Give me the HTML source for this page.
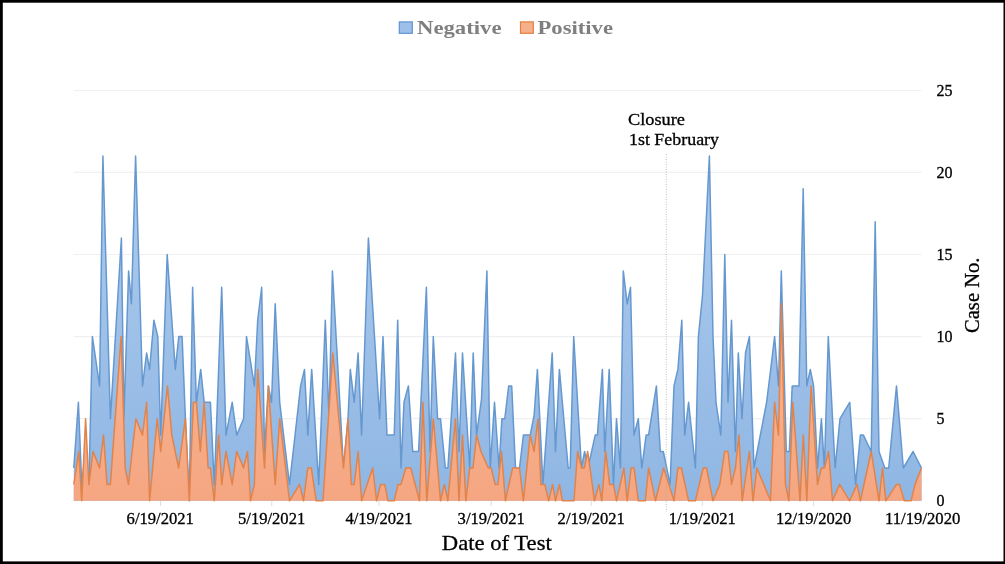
<!DOCTYPE html>
<html><head><meta charset="utf-8">
<style>
html,body{margin:0;padding:0;background:#fff;}
body{width:1005px;height:564px;overflow:hidden;position:relative;}
svg{position:absolute;left:0;top:0;will-change:transform;}
text{font-family:"Liberation Serif",serif;}
.th{stroke:#000;stroke-width:0.3;}
</style></head>
<body>
<svg width="1005" height="564" viewBox="0 0 1005 564">
<defs>
<linearGradient id="gb" x1="0" y1="0" x2="0" y2="1" gradientUnits="objectBoundingBox">
<stop offset="0" stop-color="#AECCEE"/><stop offset="1" stop-color="#8FB6E3"/>
</linearGradient>
<linearGradient id="go" x1="0" y1="0" x2="0" y2="1" gradientUnits="objectBoundingBox">
<stop offset="0" stop-color="#F7B695"/><stop offset="1" stop-color="#F5A681"/>
</linearGradient>
</defs>
<rect x="0" y="0" width="1005" height="564" fill="#fff"/>
<g stroke="#F0F0F0" stroke-width="1.2">
<line x1="73.8" y1="90.5" x2="921.5" y2="90.5"/>
<line x1="73.8" y1="172.4" x2="921.5" y2="172.4"/>
<line x1="73.8" y1="254.5" x2="921.5" y2="254.5"/>
<line x1="73.8" y1="336.7" x2="921.5" y2="336.7"/>
<line x1="73.8" y1="418.7" x2="921.5" y2="418.7"/>
</g>
<polygon points="73.8,500.8 73.8,468.0 78.4,402.3 81.7,484.4 85.6,451.5 88.9,484.4 92.4,336.6 99.6,385.9 102.9,156.0 110.4,418.7 121.4,238.1 123.9,418.7 128.6,270.9 131.4,303.8 135.6,156.0 142.5,385.9 146.6,353.0 149.6,369.4 153.9,320.2 157.8,336.6 160.7,435.1 167.2,254.5 175.3,369.4 178.8,336.6 182.1,336.6 185.4,418.7 189.3,500.8 192.6,287.3 196.4,402.3 200.7,369.4 204.2,402.3 210.4,402.3 214.3,484.4 221.7,287.3 226.0,435.1 232.2,402.3 236.7,435.1 243.6,418.7 246.5,336.6 254.4,385.9 257.7,320.2 261.7,287.3 264.5,451.5 268.4,385.9 271.5,402.3 275.2,303.8 279.7,402.3 289.5,484.4 300.6,385.9 304.5,369.4 307.8,435.1 311.7,369.4 318.7,484.4 325.3,320.2 329.0,418.7 332.4,270.9 343.5,468.0 348.0,418.7 350.3,369.4 354.2,402.3 358.1,353.0 361.6,435.1 368.4,238.1 379.6,418.7 383.0,336.6 387.0,435.1 394.2,435.1 397.7,320.2 401.0,468.0 404.0,402.3 408.4,385.9 412.7,451.5 418.6,451.5 426.4,287.3 430.0,451.5 433.3,336.6 437.6,418.7 440.5,418.7 445.4,468.0 447.9,468.0 455.5,353.0 459.0,451.5 462.5,353.0 469.7,468.0 473.2,353.0 476.6,435.1 481.5,399.0 486.9,270.9 490.2,468.0 494.5,402.3 499.0,468.0 501.9,418.7 504.8,418.7 508.7,385.9 511.7,385.9 515.5,468.0 519.5,468.0 523.4,435.1 530.2,435.1 534.1,415.4 537.4,369.4 542.9,484.4 552.2,353.0 555.5,451.5 559.4,369.4 568.2,468.0 570.2,468.0 573.7,336.6 581.5,468.0 584.6,451.5 588.0,468.0 595.2,435.1 597.4,435.1 602.4,369.4 604.8,451.5 609.2,369.4 613.5,484.4 616.5,418.7 620.4,468.0 623.3,270.9 627.2,303.8 630.5,287.3 634.0,435.1 638.3,418.7 641.8,468.0 646.1,435.1 648.6,435.1 656.4,385.9 660.3,451.5 663.3,451.5 670.1,484.4 674.0,385.9 677.9,369.4 681.8,320.2 684.7,435.1 688.6,402.3 695.4,468.0 698.4,336.6 702.5,295.5 709.4,156.0 713.0,336.6 716.0,402.3 720.8,435.1 724.8,254.5 728.0,402.3 731.5,320.2 735.4,451.5 738.3,353.0 742.0,418.7 745.5,353.0 749.4,336.6 754.0,468.0 766.6,402.3 770.7,369.4 774.6,336.6 778.5,385.9 781.3,270.9 786.3,451.5 789.3,451.5 792.2,385.9 799.0,385.9 803.2,188.8 806.8,385.9 810.3,369.4 813.6,385.9 817.5,468.0 821.4,418.7 824.4,468.0 828.3,336.6 835.1,468.0 840.0,418.7 849.7,402.3 855.6,484.4 860.4,435.1 863.4,435.1 871.2,451.5 875.2,221.7 879.0,451.5 884.8,468.0 888.7,468.0 896.5,385.9 903.3,468.0 913.1,451.5 921.5,468.0 921.5,500.8" fill="url(#gb)"/>
<polyline points="73.8,468.0 78.4,402.3 81.7,484.4 85.6,451.5 88.9,484.4 92.4,336.6 99.6,385.9 102.9,156.0 110.4,418.7 121.4,238.1 123.9,418.7 128.6,270.9 131.4,303.8 135.6,156.0 142.5,385.9 146.6,353.0 149.6,369.4 153.9,320.2 157.8,336.6 160.7,435.1 167.2,254.5 175.3,369.4 178.8,336.6 182.1,336.6 185.4,418.7 189.3,500.8 192.6,287.3 196.4,402.3 200.7,369.4 204.2,402.3 210.4,402.3 214.3,484.4 221.7,287.3 226.0,435.1 232.2,402.3 236.7,435.1 243.6,418.7 246.5,336.6 254.4,385.9 257.7,320.2 261.7,287.3 264.5,451.5 268.4,385.9 271.5,402.3 275.2,303.8 279.7,402.3 289.5,484.4 300.6,385.9 304.5,369.4 307.8,435.1 311.7,369.4 318.7,484.4 325.3,320.2 329.0,418.7 332.4,270.9 343.5,468.0 348.0,418.7 350.3,369.4 354.2,402.3 358.1,353.0 361.6,435.1 368.4,238.1 379.6,418.7 383.0,336.6 387.0,435.1 394.2,435.1 397.7,320.2 401.0,468.0 404.0,402.3 408.4,385.9 412.7,451.5 418.6,451.5 426.4,287.3 430.0,451.5 433.3,336.6 437.6,418.7 440.5,418.7 445.4,468.0 447.9,468.0 455.5,353.0 459.0,451.5 462.5,353.0 469.7,468.0 473.2,353.0 476.6,435.1 481.5,399.0 486.9,270.9 490.2,468.0 494.5,402.3 499.0,468.0 501.9,418.7 504.8,418.7 508.7,385.9 511.7,385.9 515.5,468.0 519.5,468.0 523.4,435.1 530.2,435.1 534.1,415.4 537.4,369.4 542.9,484.4 552.2,353.0 555.5,451.5 559.4,369.4 568.2,468.0 570.2,468.0 573.7,336.6 581.5,468.0 584.6,451.5 588.0,468.0 595.2,435.1 597.4,435.1 602.4,369.4 604.8,451.5 609.2,369.4 613.5,484.4 616.5,418.7 620.4,468.0 623.3,270.9 627.2,303.8 630.5,287.3 634.0,435.1 638.3,418.7 641.8,468.0 646.1,435.1 648.6,435.1 656.4,385.9 660.3,451.5 663.3,451.5 670.1,484.4 674.0,385.9 677.9,369.4 681.8,320.2 684.7,435.1 688.6,402.3 695.4,468.0 698.4,336.6 702.5,295.5 709.4,156.0 713.0,336.6 716.0,402.3 720.8,435.1 724.8,254.5 728.0,402.3 731.5,320.2 735.4,451.5 738.3,353.0 742.0,418.7 745.5,353.0 749.4,336.6 754.0,468.0 766.6,402.3 770.7,369.4 774.6,336.6 778.5,385.9 781.3,270.9 786.3,451.5 789.3,451.5 792.2,385.9 799.0,385.9 803.2,188.8 806.8,385.9 810.3,369.4 813.6,385.9 817.5,468.0 821.4,418.7 824.4,468.0 828.3,336.6 835.1,468.0 840.0,418.7 849.7,402.3 855.6,484.4 860.4,435.1 863.4,435.1 871.2,451.5 875.2,221.7 879.0,451.5 884.8,468.0 888.7,468.0 896.5,385.9 903.3,468.0 913.1,451.5 921.5,468.0" fill="none" stroke="#6698D0" stroke-width="1.5" stroke-linejoin="round"/>
<polygon points="73.8,500.8 73.8,484.4 78.8,451.5 81.7,500.8 85.6,418.7 88.9,484.4 93.0,451.5 99.6,468.0 103.5,435.1 107.0,484.4 110.4,484.4 121.1,336.6 125.2,468.0 128.5,484.4 135.9,418.7 142.5,435.1 146.6,402.3 149.6,500.8 157.2,418.7 160.7,451.5 167.5,385.9 171.8,435.1 178.6,468.0 185.4,418.7 189.3,500.8 193.4,402.3 196.4,402.3 200.3,451.5 204.2,402.3 208.1,468.0 210.4,468.0 214.3,500.8 218.6,435.1 221.7,484.4 226.0,451.5 232.2,484.4 236.7,451.5 243.6,468.0 247.5,451.5 250.5,500.8 254.4,484.4 257.7,369.4 264.5,468.0 268.4,385.9 275.2,484.4 279.7,418.7 289.5,500.8 299.6,484.4 303.5,500.8 307.8,468.0 311.3,468.0 316.2,500.8 323.0,500.8 332.8,353.0 343.5,468.0 348.0,418.7 351.3,484.4 354.2,484.4 358.1,451.5 361.6,500.8 372.7,468.0 376.6,500.8 380.6,484.4 384.7,484.4 388.0,500.8 394.2,500.8 398.0,484.4 401.0,484.4 405.9,468.0 410.8,468.0 419.5,500.8 422.9,402.3 426.8,500.8 433.3,418.7 440.5,500.8 444.4,484.4 447.9,500.8 455.5,418.7 459.0,500.8 462.5,435.1 465.8,500.8 469.7,468.0 473.0,468.0 476.6,435.1 481.0,451.5 488.3,468.0 491.2,468.0 495.1,484.4 498.0,484.4 501.5,451.5 505.4,500.8 512.6,468.0 519.5,468.0 523.4,500.8 530.2,435.1 534.1,451.5 538.0,418.7 540.9,484.4 544.8,484.4 548.7,500.8 552.6,484.4 555.5,500.8 559.4,484.4 562.4,500.8 574.0,500.8 577.6,451.5 581.5,468.0 584.2,468.0 587.7,451.5 594.5,500.8 598.9,484.4 601.8,500.8 605.7,451.5 609.6,484.4 613.5,484.4 616.5,500.8 623.9,468.0 627.2,500.8 631.1,468.0 634.0,468.0 638.3,500.8 645.3,500.8 648.6,468.0 655.5,500.8 663.6,468.0 674.0,500.8 677.9,468.0 681.4,468.0 688.6,500.8 695.4,500.8 703.2,468.0 706.5,468.0 713.0,500.8 719.8,484.4 724.7,451.5 728.0,451.5 731.5,484.4 735.4,468.0 738.9,435.1 742.2,500.8 749.4,451.5 753.0,500.8 756.9,468.0 770.5,500.8 774.6,402.3 778.5,435.1 781.5,303.8 785.4,484.4 788.9,500.8 792.8,402.3 800.0,500.8 803.3,435.1 806.8,500.8 811.1,385.9 817.5,484.4 821.4,468.0 824.4,468.0 828.6,451.5 832.5,500.8 839.6,484.4 849.7,500.8 857.1,484.4 860.4,500.8 871.2,451.5 879.0,500.8 882.5,468.0 885.8,500.8 896.5,484.4 899.4,484.4 904.3,500.8 911.1,500.8 915.0,484.4 921.5,468.0 921.5,500.8" fill="url(#go)"/>
<polyline points="73.8,484.4 78.8,451.5 81.7,500.8 85.6,418.7 88.9,484.4 93.0,451.5 99.6,468.0 103.5,435.1 107.0,484.4 110.4,484.4 121.1,336.6 125.2,468.0 128.5,484.4 135.9,418.7 142.5,435.1 146.6,402.3 149.6,500.8 157.2,418.7 160.7,451.5 167.5,385.9 171.8,435.1 178.6,468.0 185.4,418.7 189.3,500.8 193.4,402.3 196.4,402.3 200.3,451.5 204.2,402.3 208.1,468.0 210.4,468.0 214.3,500.8 218.6,435.1 221.7,484.4 226.0,451.5 232.2,484.4 236.7,451.5 243.6,468.0 247.5,451.5 250.5,500.8 254.4,484.4 257.7,369.4 264.5,468.0 268.4,385.9 275.2,484.4 279.7,418.7 289.5,500.8 299.6,484.4 303.5,500.8 307.8,468.0 311.3,468.0 316.2,500.8 323.0,500.8 332.8,353.0 343.5,468.0 348.0,418.7 351.3,484.4 354.2,484.4 358.1,451.5 361.6,500.8 372.7,468.0 376.6,500.8 380.6,484.4 384.7,484.4 388.0,500.8 394.2,500.8 398.0,484.4 401.0,484.4 405.9,468.0 410.8,468.0 419.5,500.8 422.9,402.3 426.8,500.8 433.3,418.7 440.5,500.8 444.4,484.4 447.9,500.8 455.5,418.7 459.0,500.8 462.5,435.1 465.8,500.8 469.7,468.0 473.0,468.0 476.6,435.1 481.0,451.5 488.3,468.0 491.2,468.0 495.1,484.4 498.0,484.4 501.5,451.5 505.4,500.8 512.6,468.0 519.5,468.0 523.4,500.8 530.2,435.1 534.1,451.5 538.0,418.7 540.9,484.4 544.8,484.4 548.7,500.8 552.6,484.4 555.5,500.8 559.4,484.4 562.4,500.8 574.0,500.8 577.6,451.5 581.5,468.0 584.2,468.0 587.7,451.5 594.5,500.8 598.9,484.4 601.8,500.8 605.7,451.5 609.6,484.4 613.5,484.4 616.5,500.8 623.9,468.0 627.2,500.8 631.1,468.0 634.0,468.0 638.3,500.8 645.3,500.8 648.6,468.0 655.5,500.8 663.6,468.0 674.0,500.8 677.9,468.0 681.4,468.0 688.6,500.8 695.4,500.8 703.2,468.0 706.5,468.0 713.0,500.8 719.8,484.4 724.7,451.5 728.0,451.5 731.5,484.4 735.4,468.0 738.9,435.1 742.2,500.8 749.4,451.5 753.0,500.8 756.9,468.0 770.5,500.8 774.6,402.3 778.5,435.1 781.5,303.8 785.4,484.4 788.9,500.8 792.8,402.3 800.0,500.8 803.3,435.1 806.8,500.8 811.1,385.9 817.5,484.4 821.4,468.0 824.4,468.0 828.6,451.5 832.5,500.8 839.6,484.4 849.7,500.8 857.1,484.4 860.4,500.8 871.2,451.5 879.0,500.8 882.5,468.0 885.8,500.8 896.5,484.4 899.4,484.4 904.3,500.8 911.1,500.8 915.0,484.4 921.5,468.0" fill="none" stroke="#E2834A" stroke-width="1.5" stroke-linejoin="round"/>
<line x1="666.2" y1="154" x2="666.2" y2="512" stroke="#A8A8A8" stroke-width="1" stroke-dasharray="1,1.5" opacity="0.75"/>
<g stroke="#DDDDDD" stroke-width="1"><line x1="160.5" y1="501" x2="160.5" y2="506"/><line x1="271.8" y1="501" x2="271.8" y2="506"/><line x1="379" y1="501" x2="379" y2="506"/><line x1="491.2" y1="501" x2="491.2" y2="506"/><line x1="591.2" y1="501" x2="591.2" y2="506"/><line x1="702.3" y1="501" x2="702.3" y2="506"/><line x1="813.6" y1="501" x2="813.6" y2="506"/></g>
<g fill="#000" font-size="16" class="th">
<text x="936.5" y="96.4">25</text>
<text x="936.5" y="178.2">20</text>
<text x="936.5" y="260.1">15</text>
<text x="936.5" y="341.9">10</text>
<text x="936.5" y="423.8">5</text>
<text x="936.5" y="505.6">0</text>
</g>
<g fill="#000" font-size="16" text-anchor="middle" class="th">
<text x="160.2" y="523.6" textLength="67.2" lengthAdjust="spacingAndGlyphs">6/19/2021</text>
<text x="271.6" y="523.6" textLength="67.2" lengthAdjust="spacingAndGlyphs">5/19/2021</text>
<text x="379" y="523.6" textLength="67.2" lengthAdjust="spacingAndGlyphs">4/19/2021</text>
<text x="491.2" y="523.6" textLength="67.2" lengthAdjust="spacingAndGlyphs">3/19/2021</text>
<text x="591.2" y="523.6" textLength="67.2" lengthAdjust="spacingAndGlyphs">2/19/2021</text>
<text x="702.3" y="523.6" textLength="67.2" lengthAdjust="spacingAndGlyphs">1/19/2021</text>
<text x="813.6" y="523.6" textLength="75.4" lengthAdjust="spacingAndGlyphs">12/19/2020</text>
<text x="922.7" y="523.6" textLength="75.4" lengthAdjust="spacingAndGlyphs">11/19/2020</text>
</g>
<text x="441.8" y="549.5" font-size="22" fill="#000" class="th" textLength="110" lengthAdjust="spacingAndGlyphs">Date of Test</text>
<text transform="translate(979.2,333) rotate(-90)" font-size="21" fill="#000" class="th" textLength="75.5" lengthAdjust="spacingAndGlyphs">Case No.</text>
<g font-size="17.5" fill="#000" class="th">
<text x="628" y="124.9" textLength="57" lengthAdjust="spacingAndGlyphs">Closure</text>
<text x="629" y="144.5" textLength="90" lengthAdjust="spacingAndGlyphs">1st February</text>
</g>
<rect x="399.3" y="21.9" width="13" height="11.4" fill="#9DC0EA" stroke="#5F94CF" stroke-width="1.2"/>
<text x="417" y="33.5" font-size="19" font-weight="bold" fill="#7F7F7F" textLength="84.5" lengthAdjust="spacingAndGlyphs">Negative</text>
<rect x="520.5" y="21.9" width="12.8" height="11.4" fill="#F7B08C" stroke="#E47F3E" stroke-width="1.2"/>
<text x="537.5" y="33.8" font-size="19" font-weight="bold" fill="#7F7F7F" textLength="75.5" lengthAdjust="spacingAndGlyphs">Positive</text>
<rect x="0" y="0" width="1005" height="2.7" fill="#000"/>
<rect x="0" y="0" width="2.8" height="564" fill="#000"/>
<rect x="0" y="561.4" width="1005" height="2.6" fill="#000"/>
<rect x="1003.5" y="0" width="1.5" height="564" fill="#000"/>
</svg>
</body></html>
